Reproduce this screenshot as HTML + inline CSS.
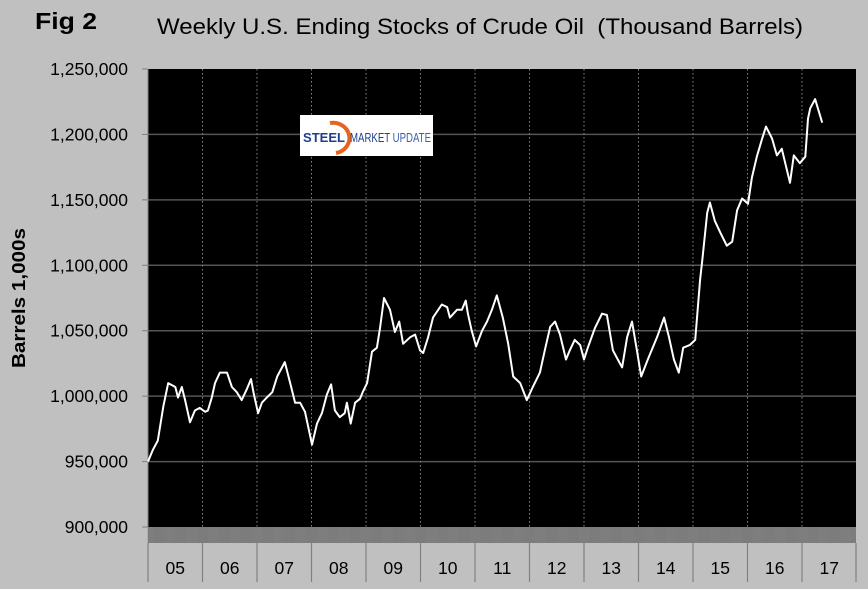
<!DOCTYPE html>
<html><head><meta charset="utf-8"><style>
html,body{margin:0;padding:0;background:#c0c0c0;}
body{width:868px;height:589px;overflow:hidden;position:relative;font-family:"Liberation Sans",Arial,sans-serif;}
</style></head><body>
<svg id="chart" width="868" height="589" xmlns="http://www.w3.org/2000/svg" style="position:absolute;left:0;top:0">
<rect x="0" y="0" width="868" height="589" fill="#c0c0c0"/>
<text x="35" y="29" font-size="23" font-weight="bold" fill="#000" textLength="62" lengthAdjust="spacingAndGlyphs">Fig 2</text>
<text x="157" y="34" font-size="22" fill="#000" textLength="646" lengthAdjust="spacingAndGlyphs" xml:space="preserve">Weekly U.S. Ending Stocks of Crude Oil  (Thousand Barrels)</text>
<text transform="translate(25,298) rotate(-90)" font-size="18" font-weight="bold" text-anchor="middle" fill="#000" textLength="140" lengthAdjust="spacingAndGlyphs">Barrels 1,000s</text>
<rect x="148" y="69" width="708" height="458" fill="#000"/>
<g id="grid"></g>
<g id="yaxis"></g>
<g id="xaxis"></g>
<g>
<rect x="300" y="115" width="133" height="41" fill="#fff"/>
<path d="M330,123 A15,14 0 1 1 336,153" fill="none" stroke="#e8641e" stroke-width="4"/>
<text x="303" y="142" font-size="13" font-weight="bold" fill="#1d3f8f" textLength="42" lengthAdjust="spacingAndGlyphs">STEEL</text>
<text x="350" y="142" font-size="13" fill="#1d3f8f" textLength="81" lengthAdjust="spacingAndGlyphs">MARKET <tspan fill="#3a5fb0">UPDATE</tspan></text>
</g>
<path id="series" fill="none" stroke="#fff" stroke-width="2" stroke-linejoin="round"/>
</svg>
<script>
const yearLabels = ["05","06","07","08","09","10","11","12","13","14","15","16","17"];
const yTicks = [900000,950000,1000000,1050000,1100000,1150000,1200000,1250000];
const dates = [0,.09,.18,.28,.37,.50,.55,.62,.68,.77,.86,.95,1.05,1.10,1.17,1.23,1.32,1.45,1.54,1.63,1.72,1.82,1.89,1.94,2.02,2.09,2.18,2.28,2.37,2.51,2.61,2.70,2.79,2.88,3.01,3.10,3.19,3.28,3.36,3.43,3.52,3.61,3.65,3.72,3.80,3.89,3.94,4.02,4.11,4.20,4.26,4.33,4.44,4.53,4.61,4.68,4.81,4.90,4.99,5.05,5.14,5.23,5.39,5.49,5.54,5.67,5.76,5.83,5.87,5.94,6.02,6.13,6.22,6.31,6.40,6.51,6.61,6.70,6.83,6.95,7.06,7.19,7.28,7.38,7.47,7.56,7.67,7.74,7.83,7.93,8.00,8.07,8.20,8.33,8.42,8.53,8.62,8.70,8.79,8.88,8.97,9.05,9.17,9.34,9.47,9.56,9.65,9.74,9.82,9.94,10.04,10.13,10.17,10.26,10.31,10.40,10.50,10.62,10.72,10.81,10.90,11.01,11.08,11.17,11.27,11.34,11.45,11.54,11.63,11.71,11.78,11.85,11.96,12.06,12.11,12.15,12.24,12.37];
const stocks = [950,959,966,992,1010,1007,999,1007,997,980,989,991,988,989,999,1010,1018,1018,1007,1003,997,1006,1013,1002,987,995,999,1003,1015,1026,1010,995,995,988,963,979,987,1001,1009,989,984,987,995,979,995,998,1003,1010,1034,1037,1053,1075,1066,1049,1057,1040,1045,1047,1035,1033,1045,1060,1070,1068,1060,1066,1066,1073,1063,1050,1038,1050,1057,1066,1077,1060,1040,1015,1010,997,1007,1018,1035,1053,1057,1047,1028,1035,1043,1039,1028,1037,1052,1063,1062,1035,1028,1022,1045,1057,1035,1015,1028,1045,1060,1045,1028,1018,1037,1039,1043,1089,1104,1140,1148,1134,1125,1115,1118,1142,1151,1147,1167,1183,1197,1206,1197,1184,1189,1175,1163,1184,1178,1183,1212,1220,1227,1209];
const NS="http://www.w3.org/2000/svg";
const X0=148, X1=856, Y0=69, Y1=527, YW=54.5;
const xs = t => X0 + t*YW;
const ys = v => Y1 - (v-900000)/350000*(Y1-Y0);
function mk(tag, attrs, parent){const e=document.createElementNS(NS,tag);for(const k in attrs)e.setAttribute(k,attrs[k]);parent.appendChild(e);return e;}
const grid=document.getElementById('grid'), ya=document.getElementById('yaxis'), xa=document.getElementById('xaxis');
yTicks.forEach(v=>{
  const y=ys(v);
  if(v>900000 && v<1250000){const g=mk('line',{x1:X0,x2:X1,y1:y,y2:y,stroke:'#555','stroke-width':1.5},grid);
  
  }
  const tk=mk('line',{x1:X0-6,x2:X0,y1:y,y2:y,stroke:'#808080','stroke-width':1},ya);
  
  
  const tx=mk('text',{x:128,y:y+6,'font-size':17.5,'text-anchor':'end',fill:'#000'},ya);
  tx.textContent=v.toLocaleString('en-US');
  
  
});
mk('line',{x1:X0,x2:X0,y1:Y0,y2:Y1,stroke:'#808080','stroke-width':1},ya);
const band=mk('rect',{x:X0,y:Y1,width:X1-X0,height:16,fill:'#8c8c8c'},xa);


for(let w=0; w<(X1-X0)/(YW/52); w+=1){const x=X0+w*YW/52;mk('line',{x1:x,x2:x,y1:Y1,y2:Y1+16,stroke:'#666','stroke-width':0.4},xa);}
yearLabels.forEach((lab,i)=>{
  const x=xs(i);
  if(i>0){const g=mk('line',{x1:x,x2:x,y1:Y0,y2:Y1,stroke:'#888','stroke-width':1,'stroke-dasharray':'1.5,2.5'},grid);
  
  }
  const d=mk('line',{x1:x,x2:x,y1:Y1+16,y2:582,stroke:'#808080','stroke-width':1.2},xa);
  
  
  const t=mk('text',{x:x+YW/2,y:574,'font-size':17.5,'text-anchor':'middle',fill:'#000'},xa);
  t.textContent=lab;
  
  
});
mk('line',{x1:X1,x2:X1,y1:Y1+16,y2:582,stroke:'#808080','stroke-width':1.2},xa);
let d='';
dates.forEach((t,i)=>{d+=(i?'L':'M')+xs(t).toFixed(1)+','+ys(stocks[i]*1000).toFixed(1);});
document.getElementById('series').setAttribute('d',d);
</script>
</body></html>
